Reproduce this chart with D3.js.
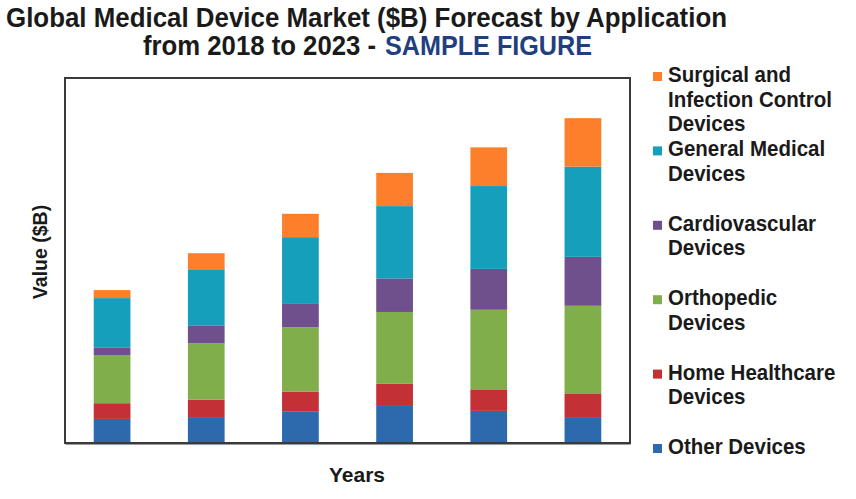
<!DOCTYPE html>
<html>
<head>
<meta charset="utf-8">
<script src="https://cdn.jsdelivr.net/npm/d3@7"></script>
<style>
  html, body { margin: 0; padding: 0; background: #ffffff; }
  svg { display: block; }
</style>
</head>
<body>
<svg id="chart" width="856" height="499"></svg>
<script>
// ---- data ----
const years = ["2018", "2019", "2020", "2021", "2022", "2023"];
const seriesNames = [
  "Other Devices",
  "Home Healthcare Devices",
  "Orthopedic Devices",
  "Cardiovascular Devices",
  "General Medical Devices",
  "Surgical and Infection Control Devices"
];
const otherDevices          = [6.6, 7.1, 8.7, 10.4, 8.8, 7.1];
const homeHealthcare        = [4.3, 4.8, 5.4, 5.8, 5.9, 6.5];
const orthopedic            = [13.2, 15.4, 17.6, 19.7, 21.8, 24.0];
const cardiovascular        = [2.1, 4.8, 6.4, 9.2, 11.2, 13.4];
const generalMedical        = [13.5, 15.5, 18.3, 19.8, 22.7, 24.7];
const surgicalInfection     = [2.2, 4.4, 6.4, 9.1, 10.6, 13.3];
const seriesValues = [otherDevices, homeHealthcare, orthopedic, cardiovascular, generalMedical, surgicalInfection];
const seriesColors = ["#2C6AAD", "#C33035", "#80AE4B", "#704F8D", "#159FBB", "#FE7F2B"];

// legend order (top to bottom) and wrapped labels
const legendOrder = [5, 4, 3, 2, 1, 0];
const legendLines = {
  5: ["Surgical and", "Infection Control", "Devices"],
  4: ["General Medical", "Devices"],
  3: ["Cardiovascular", "Devices"],
  2: ["Orthopedic", "Devices"],
  1: ["Home Healthcare", "Devices"],
  0: ["Other Devices"]
};

// ---- layout ----
const svg = d3.select("#chart");
const plot = { left: 65, right: 630, top: 78, bottom: 443 };

const rows = years.map((y, i) => {
  const r = { year: y };
  seriesNames.forEach((s, k) => r[s] = seriesValues[k][i]);
  return r;
});
const stacked = d3.stack().keys(seriesNames)(rows);

const x = d3.scaleBand().domain(years).range([plot.left, plot.right]).paddingInner(0.61).paddingOuter(0.305);
const y = d3.scaleLinear().domain([0, 100]).range([plot.bottom, plot.top]);

// bars
svg.append("g").selectAll("g")
  .data(stacked)
  .join("g")
  .attr("fill", (d, i) => seriesColors[i])
  .selectAll("rect")
  .data(d => d)
  .join("rect")
  .attr("x", d => x(d.data.year))
  .attr("width", x.bandwidth())
  .attr("y", d => y(d[1]))
  .attr("height", d => y(d[0]) - y(d[1]));

// frame
svg.append("rect")
  .attr("x", plot.left).attr("y", plot.top)
  .attr("width", plot.right - plot.left).attr("height", plot.bottom - plot.top)
  .attr("fill", "none").attr("stroke", "#3a3a3a").attr("stroke-width", 2);

// x axis (no visible tick labels)
const xAxis = d3.axisBottom(x).tickSize(0).tickFormat("");
svg.append("g").attr("transform", `translate(0,${plot.bottom})`).call(xAxis)
  .call(g => g.select(".domain").attr("stroke", "#3a3a3a").attr("stroke-width", 2));

// title
const font = "'Liberation Sans', Arial, sans-serif";
const titleFont = "'Liberation Sans Narrow', 'Arial Narrow', 'Liberation Sans', Arial, sans-serif";
svg.append("text")
  .attr("x", 6).attr("y", 27)
  .attr("font-family", titleFont).attr("font-weight", "bold").attr("font-size", 28)
  .attr("fill", "#1a1a1a")
  .attr("textLength", 721).attr("lengthAdjust", "spacingAndGlyphs")
  .text("Global Medical Device Market ($B)  Forecast by Application");
svg.append("text")
  .attr("x", 143).attr("y", 55)
  .attr("font-family", titleFont).attr("font-weight", "bold").attr("font-size", 28)
  .attr("fill", "#1a1a1a")
  .attr("textLength", 233).attr("lengthAdjust", "spacingAndGlyphs")
  .text("from 2018  to 2023 -");
svg.append("text")
  .attr("x", 385).attr("y", 55)
  .attr("font-family", titleFont).attr("font-weight", "bold").attr("font-size", 28)
  .attr("fill", "#1F3F7F")
  .attr("textLength", 207).attr("lengthAdjust", "spacingAndGlyphs")
  .text("SAMPLE FIGURE");

// axis titles
svg.append("text")
  .attr("transform", "translate(47,252) rotate(-90)")
  .attr("text-anchor", "middle")
  .attr("font-family", font).attr("font-weight", "bold").attr("font-size", 19.5)
  .attr("fill", "#1a1a1a")
  .text("Value ($B)");
svg.append("text")
  .attr("x", 357).attr("y", 482)
  .attr("text-anchor", "middle")
  .attr("font-family", font).attr("font-weight", "bold").attr("font-size", 21)
  .attr("fill", "#1a1a1a")
  .text("Years");

// legend
const legend = svg.append("g");
const itemTop = 82, itemStep = 74.4, lineH = 24.5;
legendOrder.forEach((k, idx) => {
  const base = itemTop + idx * itemStep;
  legend.append("rect")
    .attr("x", 653).attr("y", base - 10).attr("width", 9).attr("height", 9)
    .attr("fill", seriesColors[k]);
  legendLines[k].forEach((line, li) => {
    legend.append("text")
      .attr("transform", `translate(668,${base + li * lineH}) scale(1,1.1)`)
      .attr("font-family", font).attr("font-weight", "bold").attr("font-size", 20.5)
      .attr("fill", "#1a1a1a")
      .text(line);
  });
});
</script>
</body>
</html>
